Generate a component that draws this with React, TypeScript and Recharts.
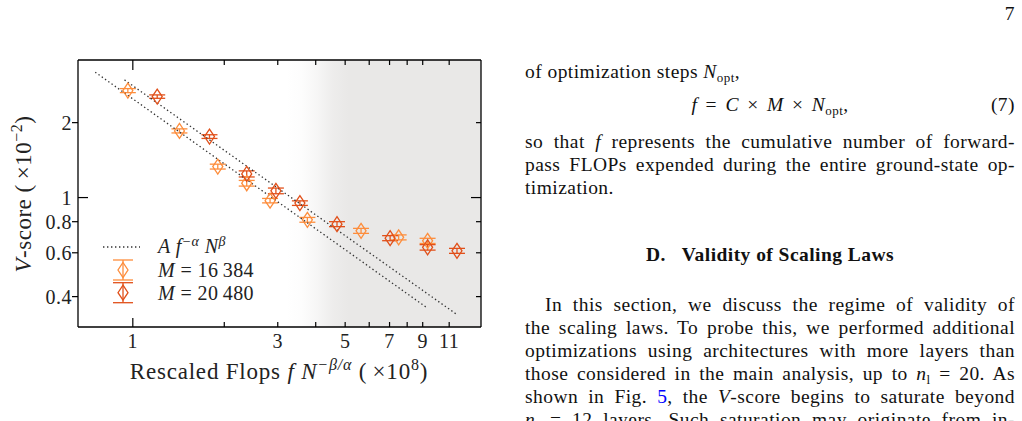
import { ScatterChart, Scatter, XAxis, YAxis, ErrorBar, ReferenceArea, Legend } from 'recharts'

const FONT = '"Liberation Serif", "DejaVu Serif", serif'
const C_A = '#fd8d3c'
const C_B = '#e1501a'
const SHADE = '#e9e8e7'

// rescaled flops (x1e8) / V-score (x1e-2) / error
const FLOPS_A = [0.963, 1.424, 1.904, 2.371, 2.83, 3.755, 5.64, 7.5, 9.34]
const VSCORE_A = [2.69, 1.853, 1.332, 1.142, 0.972, 0.814, 0.735, 0.692, 0.67]
const ERR_A = [0.05, 0.035, 0.03, 0.03, 0.02, 0.018, 0.017, 0.016, 0.016]

const FLOPS_B = [1.203, 1.788, 2.371, 2.958, 3.548, 4.7, 7.03, 9.34, 11.67]
const VSCORE_B = [2.545, 1.758, 1.245, 1.064, 0.95, 0.782, 0.687, 0.631, 0.611]
const ERR_B = [0.04, 0.03, 0.035, 0.028, 0.02, 0.018, 0.016, 0.016, 0.014]

// fitted A f^-a N^b, one line per N (end points)
const FIT_LOW_X = [0.752, 9.23]
const FIT_LOW_V = [3.19, 0.363]
const FIT_HIGH_X = [0.939, 11.58]
const FIT_HIGH_V = [2.97, 0.341]

const SERIES_NAMES = ['16\u2009384', '20\u2009480']

const X_TICKS = [1, 2, 3, 4, 5, 6, 7, 8, 9, 11]
const X_LABELS = [1, 3, 5, 7, 9, 11]
const Y_TICKS = [0.4, 0.6, 0.8, 1, 2]
const X_DOMAIN = [0.66, 14]
const Y_DOMAIN = [0.302, 3.57]
const SHADE_FROM = 3.2

const toRows = (xs: number[], vs: number[], es?: number[]) =>
  xs.map((x, i) => ({ x, v: vs[i], e: es ? es[i] : 0 }))

const dataA = toRows(FLOPS_A, VSCORE_A, ERR_A)
const dataB = toRows(FLOPS_B, VSCORE_B, ERR_B)
const fitLow = toRows(FIT_LOW_X, FIT_LOW_V)
const fitHigh = toRows(FIT_HIGH_X, FIT_HIGH_V)

const diamond = (color: string) => (p: any) => {
  const { cx, cy } = p
  return (
    <path d={`M${cx},${cy - 7.5}L${cx + 5},${cy}L${cx},${cy + 7.5}L${cx - 5},${cy}Z`}
      fill="none" stroke={color} strokeWidth={1.3} />
  )
}

const tickText = { fontSize: 20, fontFamily: FONT, fill: '#222', letterSpacing: 0.5 }

const BottomTick = (p: any) => {
  const v = p.payload.value
  const len = v === 1 ? 9 : 5
  return (
    <g>
      <line x1={p.x} x2={p.x} y1={p.y} y2={p.y - len} stroke="#000" strokeWidth={1.2} />
      {X_LABELS.includes(v) &&
        <text x={p.x} y={p.y + 21} textAnchor="middle" {...tickText}>{v}</text>}
    </g>
  )
}

const TopTick = (p: any) => {
  const len = p.payload.value === 1 ? 10 : 5
  return <line x1={p.x} x2={p.x} y1={p.y} y2={p.y + len} stroke="#000" strokeWidth={1.2} />
}

// major tick points inward, minor ticks outward on this side
const LeftTick = (p: any) => {
  const v = p.payload.value
  const major = v === 1
  return (
    <g>
      <line x1={major ? p.x : p.x - 6} x2={major ? p.x + 10 : p.x} y1={p.y} y2={p.y} stroke="#000" strokeWidth={1.2} />
      <text x={p.x - 6} y={p.y + 7} textAnchor="end" {...tickText}>{v}</text>
    </g>
  )
}

const RightTick = (p: any) => {
  const len = p.payload.value === 1 ? 10 : 5
  return <line x1={p.x - len} x2={p.x} y1={p.y} y2={p.y} stroke="#000" strokeWidth={1.2} />
}

const legendText = { fontSize: 20, fontFamily: FONT, fill: '#222', letterSpacing: 0.4 }

const renderLegend = () => (
  <svg width={230} height={80} style={{ display: 'block', overflow: 'visible' }}>
    <line x1={8} x2={45} y1={15} y2={15} stroke="#333" strokeWidth={1.3} strokeDasharray="1.4 2.6" />
    <text x={63} y={21} {...legendText}>
      <tspan fontStyle="italic">A f</tspan>
      <tspan dy={-7} fontSize={14} fontStyle="italic">{'\u2212\u03b1'}</tspan>
      <tspan dy={7} fontStyle="italic"> N</tspan>
      <tspan dy={-7} fontSize={14} fontStyle="italic">{'\u03b2'}</tspan>
    </text>
    {[C_A, C_B].map((c, i) => {
      const cy = 38 + i * 22.7
      return (
        <g key={i}>
          <line x1={18} x2={38} y1={cy - 10} y2={cy - 10} stroke={c} strokeWidth={1.3} />
          <line x1={18} x2={38} y1={cy + 10} y2={cy + 10} stroke={c} strokeWidth={1.3} />
          <line x1={28} x2={28} y1={cy - 10} y2={cy + 10} stroke={c} strokeWidth={1.3} />
          <path d={`M28,${cy - 7.5}L33,${cy}L28,${cy + 7.5}L23,${cy}Z`} fill="none" stroke={c} strokeWidth={1.3} />
          <text x={63} y={cy + 7} {...legendText}>
            <tspan fontStyle="italic">M</tspan> = {SERIES_NAMES[i]}
          </text>
        </g>
      )
    })}
  </svg>
)

const axisLine = { stroke: '#000', strokeWidth: 1.3 }
const titleText = { fontSize: 23, fontFamily: FONT, fill: '#222', letterSpacing: 0.8 }

function Figure() {
  return (
    <ScatterChart width={500} height={421} margin={{ top: 59, right: 18, bottom: 93, left: 77 }}>
      <defs>
        <linearGradient id="shade" x1="0" y1="0" x2="1" y2="0">
          <stop offset="0" stopColor={SHADE} stopOpacity={0} />
          <stop offset="0.08" stopColor={SHADE} stopOpacity={0.1} />
          <stop offset="0.16" stopColor={SHADE} stopOpacity={0.4} />
          <stop offset="0.24" stopColor={SHADE} stopOpacity={0.8} />
          <stop offset="0.32" stopColor={SHADE} stopOpacity={1} />
          <stop offset="1" stopColor={SHADE} stopOpacity={1} />
        </linearGradient>
      </defs>
      <ReferenceArea x1={SHADE_FROM} x2={X_DOMAIN[1]} fill="url(#shade)" fillOpacity={1} stroke="none" ifOverflow="hidden" />
      <XAxis type="number" dataKey="x" scale="log" domain={X_DOMAIN} allowDataOverflow ticks={X_TICKS} interval={0}
        height={1} tickSize={0} tickMargin={0} tickLine={false} tick={<BottomTick />} axisLine={axisLine} />
      <XAxis xAxisId="top" orientation="top" type="number" dataKey="x" scale="log" domain={X_DOMAIN} allowDataOverflow
        ticks={X_TICKS} interval={0} height={1} tickSize={0} tickMargin={0} tickLine={false} tick={<TopTick />}
        axisLine={axisLine} />
      <YAxis type="number" dataKey="v" scale="log" domain={Y_DOMAIN} allowDataOverflow ticks={Y_TICKS} interval={0}
        width={1} tickSize={0} tickMargin={0} tickLine={false} tick={<LeftTick />} axisLine={axisLine} />
      <YAxis yAxisId="right" orientation="right" type="number" dataKey="v" scale="log" domain={Y_DOMAIN} allowDataOverflow
        ticks={Y_TICKS} interval={0} width={1} tickSize={0} tickMargin={0} tickLine={false} tick={<RightTick />}
        axisLine={axisLine} />

      <Scatter data={fitLow} line={{ stroke: '#333', strokeWidth: 1.3, strokeDasharray: '1.4 2.6' }} lineType="joint"
        shape={() => <g />} legendType="none" isAnimationActive={false} />
      <Scatter data={fitHigh} line={{ stroke: '#333', strokeWidth: 1.3, strokeDasharray: '1.4 2.6' }} lineType="joint"
        shape={() => <g />} legendType="none" isAnimationActive={false} />

      <Scatter data={dataA} shape={diamond(C_A)} isAnimationActive={false}>
        <ErrorBar dataKey="e" direction="y" width={8} stroke={C_A} strokeWidth={1.3} />
      </Scatter>
      <Scatter data={dataB} shape={diamond(C_B)} isAnimationActive={false}>
        <ErrorBar dataKey="e" direction="y" width={8} stroke={C_B} strokeWidth={1.3} />
      </Scatter>

      <Legend content={renderLegend} layout="vertical" align="center" verticalAlign="middle"
        wrapperStyle={{ left: 95, top: 232, width: 230, height: 80 }} />

      <text x={279} y={379} textAnchor="middle" {...titleText}>
        Rescaled Flops <tspan fontStyle="italic">f N</tspan>
        <tspan dy={-9} fontSize={16} fontStyle="italic">{'\u2212\u03b2/\u03b1'}</tspan>
        <tspan dy={9}> ({'\u2009\u00d7'}10</tspan>
        <tspan dy={-9} fontSize={16}>8</tspan>
        <tspan dy={9}>)</tspan>
      </text>
      <text transform="translate(31,194) rotate(-90)" textAnchor="middle" {...titleText} letterSpacing={0.5}>
        <tspan fontStyle="italic">V</tspan>-score ({'\u2009\u00d7'}10
        <tspan dy={-9} fontSize={16}>{'\u22122'}</tspan>
        <tspan dy={9}>)</tspan>
      </text>
    </ScatterChart>
  )
}

const TextLine = ({ base, children, indent = 0, last = false }: any) => (
  <div style={{
    position: 'absolute', left: 525 + indent, width: 490 - indent, top: base - 18, height: 23, lineHeight: '23px',
    textAlign: 'justify', textAlignLast: last ? 'left' : 'justify', whiteSpace: 'nowrap',
  }}>{children}</div>
)

const sub = (s: string) => <sub style={{ fontSize: 13, verticalAlign: -4, lineHeight: 0 }}>{s}</sub>

export default function App() {
  return (
    <div style={{
      position: 'absolute', left: 0, top: 0, width: 1022, height: 421, overflow: 'hidden',
      background: '#fff', fontFamily: FONT, fontSize: 19.5, letterSpacing: 0.45, color: '#111',
    }}>
      <div style={{ position: 'absolute', left: 0, top: 0, letterSpacing: 0 }}>
        <Figure />
      </div>
      <div style={{ position: 'absolute', right: 7, top: 2, lineHeight: '23px' }}>7</div>
      <TextLine base={78} last>of optimization steps <i>N</i>{sub('opt')},</TextLine>
      <div style={{ position: 'absolute', left: 525, width: 490, top: 111 - 18, lineHeight: '23px', textAlign: 'center', wordSpacing: 3 }}>
        <i>f</i> = <i>C</i> × <i>M</i> × <i>N</i>{sub('opt')},
      </div>
      <div style={{ position: 'absolute', right: 7, top: 111 - 18, lineHeight: '23px' }}>(7)</div>
      <TextLine base={148}>so that <i>f</i> represents the cumulative number of forward-</TextLine>
      <TextLine base={171}>pass FLOPs expended during the entire ground-state op-</TextLine>
      <TextLine base={194} last>timization.</TextLine>
      <div style={{ position: 'absolute', left: 525, width: 490, top: 261 - 18, lineHeight: '23px', textAlign: 'center', fontWeight: 'bold' }}>
        D.&nbsp;&nbsp;&nbsp;Validity of Scaling Laws
      </div>
      <TextLine base={311} indent={20}>In this section, we discuss the regime of validity of</TextLine>
      <TextLine base={334}>the scaling laws. To probe this, we performed additional</TextLine>
      <TextLine base={357}>optimizations using architectures with more layers than</TextLine>
      <TextLine base={380}>those considered in the main analysis, up to <i>n</i>{sub('l')} = 20. As</TextLine>
      <TextLine base={403}>shown in Fig. <span style={{ color: '#0000ff' }}>5</span>, the <i>V</i>-score begins to saturate beyond</TextLine>
      <TextLine base={426}><i>n</i>{sub('l')} = 12 layers. Such saturation may originate from in-</TextLine>
    </div>
  )
}
